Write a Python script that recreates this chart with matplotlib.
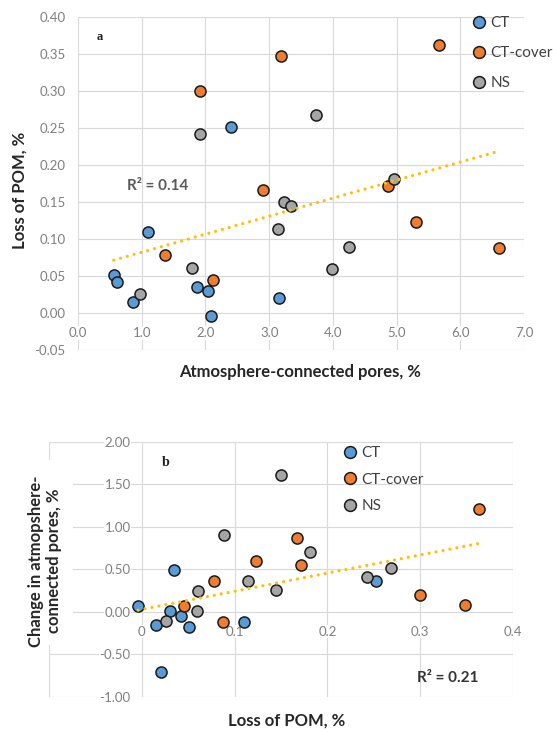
import numpy as np
import matplotlib.pyplot as plt
from matplotlib.lines import Line2D
from matplotlib.patches import Rectangle

plt.rcParams['font.family'] = ['Lato', 'DejaVu Sans']

# Treatments
groups = ['CT', 'CT-cover', 'NS']
colors = ['#5B9BD5', '#ED7D31', '#A5A5A5']

# Atmosphere-connected pores, % (panel a x)
pores_ct = [2.40, 1.10, 0.56, 0.61, 1.86, 2.04, 3.16, 0.87, 2.08]
pores_cover = [5.66, 3.18, 1.91, 4.87, 2.90, 5.30, 6.61, 1.36, 2.12]
pores_ns = [3.73, 1.91, 4.96, 3.24, 3.35, 3.14, 4.26, 1.79, 3.98, 0.97]

# Loss of POM, % (panel a y, panel b x)
pom_ct = [0.252, 0.110, 0.051, 0.042, 0.035, 0.030, 0.021, 0.015, -0.004]
pom_cover = [0.363, 0.348, 0.300, 0.172, 0.167, 0.123, 0.088, 0.078, 0.045]
pom_ns = [0.268, 0.243, 0.181, 0.150, 0.145, 0.114, 0.089, 0.061, 0.059, 0.026]

# Change in atmosphere-connected pores, % (panel b y)
change_ct = [0.357, -0.126, -0.185, -0.055, 0.49, 0.012, -0.708, -0.153, 0.071]
change_cover = [1.21, 0.079, 0.20, 0.554, 0.865, 0.593, -0.126, 0.357, 0.063]
change_ns = [0.51, 0.405, 0.70, 1.61, 0.256, 0.357, 0.908, 0.24, 0.012, -0.114]

a_xticks = [0, 1, 2, 3, 4, 5, 6, 7]
a_yticks = [-0.05, 0.0, 0.05, 0.10, 0.15, 0.20, 0.25, 0.30, 0.35, 0.40]
b_xticks = [-0.1, 0.0, 0.1, 0.2, 0.3, 0.4]
b_xlabels = ['', '0', '0.1', '0.2', '0.3', '0.4']
b_yticks = [-1.0, -0.5, 0.0, 0.5, 1.0, 1.5, 2.0]

W, H = 553, 729
grid_c = '#d9d9d9'
tick_c = '#7f7f7f'
trend_c = '#FFC000'
label_c = '#262626'


def style_axes(ax):
    ax.set_axisbelow(True)
    ax.grid(True, color=grid_c, linewidth=0.8)
    for s in ax.spines.values():
        s.set_visible(False)
    ax.spines['bottom'].set_position(('data', 0))
    ax.tick_params(length=0, labelcolor=tick_c, labelsize=9.5)
    ax.tick_params(axis='x', pad=10)
    for lbl in ax.get_xticklabels() + ax.get_yticklabels():
        lbl.set_bbox(dict(facecolor='white', edgecolor='none', pad=0.5))


def draw_series(ax, xs, ys):
    for x, y, c, g in zip(xs, ys, colors, groups):
        ax.scatter(x, y, s=64, color=c, edgecolor='#1a1a1a', linewidth=1.1,
                   zorder=3, label=g)
    # linear trendline over all points
    allx = np.concatenate([np.asarray(v) for v in xs])
    ally = np.concatenate([np.asarray(v) for v in ys])
    k, b = np.polyfit(allx, ally, 1)
    tx = np.array([allx.min(), allx.max()])
    ax.plot(tx, k * tx + b, color=trend_c, linewidth=2.3,
            linestyle=(0, (0.01, 2.2)), dash_capstyle='round', zorder=4)


def add_legend(ax, anchor, spacing):
    handles = [Line2D([], [], linestyle='none', marker='o', markersize=8.5,
                      markerfacecolor=c, markeredgecolor='#1a1a1a',
                      markeredgewidth=1.1) for c in colors]
    leg = ax.legend(handles, groups, bbox_to_anchor=anchor,
                    bbox_transform=fig.transFigure, frameon=False,
                    fontsize=11, handlelength=0.8, handletextpad=0.35,
                    labelspacing=spacing, borderpad=0, borderaxespad=0,
                    loc='upper left')
    for t in leg.get_texts():
        t.set_color('#404040')


fig = plt.figure(figsize=(W / 100, H / 100), dpi=100)

# ---- panel a
ax1 = fig.add_axes([78 / W, 1 - 350 / H, 446 / W, 332.5 / H])
draw_series(ax1, [pores_ct, pores_cover, pores_ns], [pom_ct, pom_cover, pom_ns])
ax1.set_xlim(0, 7)
ax1.set_ylim(-0.05, 0.40)
ax1.set_xticks(a_xticks, [f'{v:.1f}' for v in a_xticks])
ax1.set_yticks(a_yticks, [f'{v:.2f}' for v in a_yticks])
style_axes(ax1)
ax1.tick_params(axis='y', pad=9)
add_legend(ax1, (473 / W, 1 - 16 / H), 1.05)

fig.text(100 / W, 1 - 37 / H, 'a', family='Liberation Serif',
         fontweight='bold', fontsize=9, ha='center', va='center',
         color='#1f1f1f')
fig.text(127 / W, 1 - 186 / H, 'R² = 0.14', fontweight='bold', fontsize=11,
         ha='left', va='center', color='#595959')
fig.text(300 / W, 1 - 372 / H, 'Atmosphere-connected pores, %',
         fontweight='bold', fontsize=12, ha='center', va='center',
         color=label_c)
fig.text(20 / W, 1 - 190 / H, 'Loss of POM, %', fontweight='bold',
         fontsize=12, ha='center', va='center', rotation=90, color=label_c)

# ---- panel b
ax2 = fig.add_axes([49 / W, 1 - 696.7 / H, 464 / W, 255 / H])
draw_series(ax2, [pom_ct, pom_cover, pom_ns],
            [change_ct, change_cover, change_ns])
ax2.set_xlim(-0.1, 0.4)
ax2.set_ylim(-1.0, 2.0)
ax2.set_xticks(b_xticks, b_xlabels)
ax2.set_yticks(b_yticks, [f'{v:.2f}' for v in b_yticks])
ax2.spines['left'].set_position(('data', 0))
style_axes(ax2)
ax2.tick_params(axis='y', pad=8)
add_legend(ax2, (344 / W, 1 - 446 / H), 0.82)

fig.text(166 / W, 1 - 463 / H, 'b', family='Liberation Serif',
         fontweight='bold', fontsize=10, ha='center', va='center',
         color='#1f1f1f')
fig.text(417 / W, 1 - 678 / H, 'R² = 0.21', fontweight='bold', fontsize=11,
         ha='left', va='center', color='#333333')
fig.text(287 / W, 1 - 721 / H, 'Loss of POM, %', fontweight='bold',
         fontsize=12, ha='center', va='center', color=label_c)

# white box behind the two-line y title covers the left gridlines
fig.patches.append(Rectangle((48 / W, 1 - 645 / H), 25 / W, 185 / H,
                             transform=fig.transFigure, facecolor='white',
                             edgecolor='none', zorder=1))
fig.text(45 / W, 1 - 561 / H, 'Change in atmopshere-\nconnected pores, %',
         fontweight='bold', fontsize=12, ha='center', va='center',
         rotation=90, linespacing=1.15, color=label_c, zorder=3)

fig.savefig('out.png', dpi=100)
